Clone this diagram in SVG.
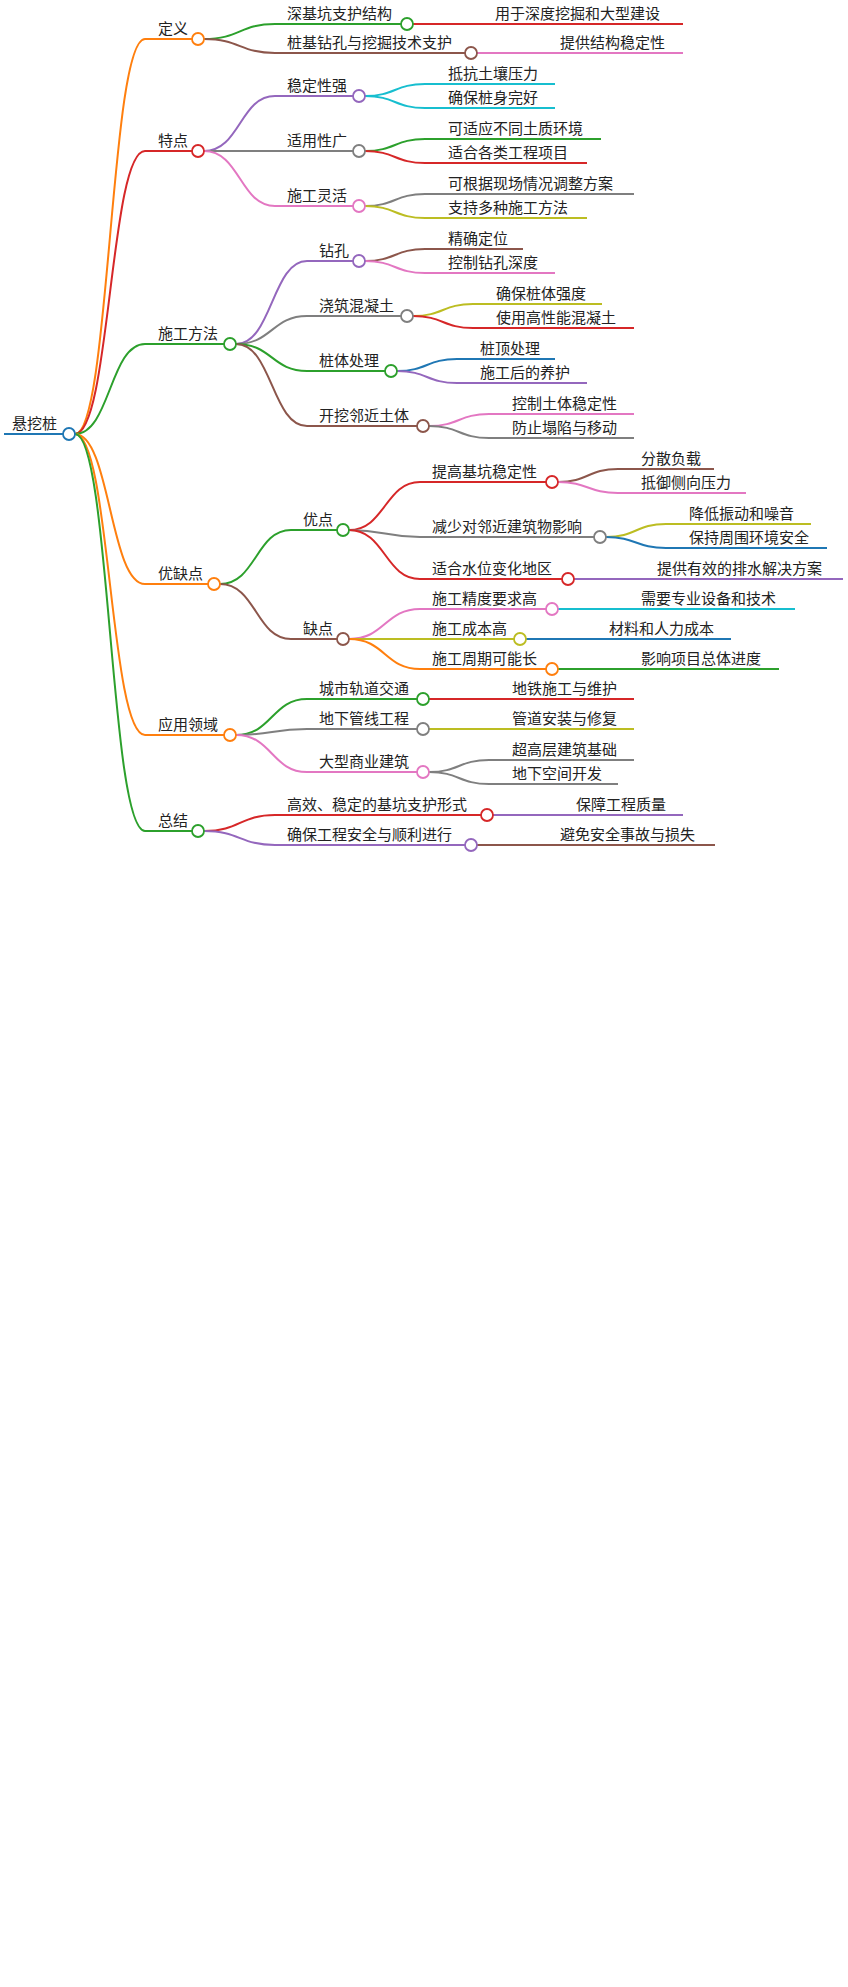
<svg xmlns="http://www.w3.org/2000/svg" width="848" height="1987" viewBox="0 0 848 1987">
<style>
text{font-family:"Noto Sans CJK SC","Liberation Sans",sans-serif;font-size:15px;fill:#222}
path{fill:none;stroke-width:2}
circle{fill:#fff;stroke-width:1.8}
.o{stroke:#ff7f0e}.r{stroke:#d62728}.g{stroke:#2ca02c}.p{stroke:#9467bd}.b{stroke:#8c564b}.k{stroke:#e377c2}.y{stroke:#7f7f7f}.l{stroke:#bcbd22}.c{stroke:#17becf}.u{stroke:#1f77b4}
</style>
<rect width="848" height="1987" fill="#fff"/>
<g id="connectors">
<path class="o" d="M75 434C110 434 110 39 145 39"/>
<path class="r" d="M75 434C110 434 110 151 145 151"/>
<path class="g" d="M75 434C110 434 110 344 145 344"/>
<path class="o" d="M75 434C110 434 110 584 145 584"/>
<path class="o" d="M75 434C110 434 110 735 145 735"/>
<path class="g" d="M75 434C110 434 110 831 145 831"/>
<path class="g" d="M204 39C240 39 240 24 275 24"/>
<path class="b" d="M204 39C240 39 240 53 275 53"/>
<path class="r" d="M413 24C443 24 443 24 473 24"/>
<path class="k" d="M477 53C507 53 507 53 537 53"/>
<path class="p" d="M204 151C240 151 240 96 275 96"/>
<path class="y" d="M204 151C240 151 240 151 275 151"/>
<path class="k" d="M204 151C240 151 240 206 275 206"/>
<path class="c" d="M365 96C395 96 395 84 425 84"/>
<path class="c" d="M365 96C395 96 395 108 425 108"/>
<path class="g" d="M365 151C395 151 395 139 425 139"/>
<path class="r" d="M365 151C395 151 395 163 425 163"/>
<path class="y" d="M365 206C395 206 395 194 425 194"/>
<path class="l" d="M365 206C395 206 395 218 425 218"/>
<path class="p" d="M236 344C272 344 272 261 307 261"/>
<path class="y" d="M236 344C272 344 272 316 307 316"/>
<path class="g" d="M236 344C272 344 272 371 307 371"/>
<path class="b" d="M236 344C272 344 272 426 307 426"/>
<path class="b" d="M365 261C395 261 395 249 425 249"/>
<path class="k" d="M365 261C395 261 395 273 425 273"/>
<path class="l" d="M413 316C443 316 443 304 473 304"/>
<path class="r" d="M413 316C443 316 443 328 473 328"/>
<path class="u" d="M397 371C427 371 427 359 457 359"/>
<path class="p" d="M397 371C427 371 427 383 457 383"/>
<path class="k" d="M429 426C459 426 459 414 489 414"/>
<path class="y" d="M429 426C459 426 459 438 489 438"/>
<path class="g" d="M220 584C256 584 256 530 291 530"/>
<path class="b" d="M220 584C256 584 256 639 291 639"/>
<path class="r" d="M349 530C385 530 385 482 420 482"/>
<path class="y" d="M349 530C385 530 385 537 420 537"/>
<path class="r" d="M349 530C385 530 385 579 420 579"/>
<path class="b" d="M558 482C588 482 588 469 618 469"/>
<path class="k" d="M558 482C588 482 588 493 618 493"/>
<path class="l" d="M606 537C636 537 636 524 666 524"/>
<path class="u" d="M606 537C636 537 636 548 666 548"/>
<path class="p" d="M574 579L634 579"/>
<path class="k" d="M349 639C385 639 385 609 420 609"/>
<path class="l" d="M349 639C385 639 385 639 420 639"/>
<path class="o" d="M349 639C385 639 385 669 420 669"/>
<path class="c" d="M558 609L618 609"/>
<path class="u" d="M526 639L586 639"/>
<path class="g" d="M558 669L618 669"/>
<path class="g" d="M236 735C272 735 272 699 307 699"/>
<path class="y" d="M236 735C272 735 272 729 307 729"/>
<path class="k" d="M236 735C272 735 272 772 307 772"/>
<path class="r" d="M429 699L489 699"/>
<path class="l" d="M429 729L489 729"/>
<path class="y" d="M429 772C459 772 459 760 489 760"/>
<path class="y" d="M429 772C459 772 459 784 489 784"/>
<path class="r" d="M204 831C240 831 240 815 275 815"/>
<path class="p" d="M204 831C240 831 240 845 275 845"/>
<path class="p" d="M493 815L553 815"/>
<path class="b" d="M477 845L537 845"/>
</g>
<g id="root"><path class="u" stroke-width="3" d="M4 434H63"/><circle class="u" cx="69" cy="434" r="6"/><text x="12" y="429">悬挖桩</text></g>
<g id="n1"><path class="o" d="M145 39H192"/><circle class="o" cx="198" cy="39" r="6"/><text x="158" y="34">定义</text></g>
<g id="n2"><path class="r" d="M145 151H192"/><circle class="r" cx="198" cy="151" r="6"/><text x="158" y="146">特点</text></g>
<g id="n3"><path class="g" d="M145 344H224"/><circle class="g" cx="230" cy="344" r="6"/><text x="158" y="339">施工方法</text></g>
<g id="n4"><path class="o" d="M145 584H208"/><circle class="o" cx="214" cy="584" r="6"/><text x="158" y="579">优缺点</text></g>
<g id="n5"><path class="o" d="M145 735H224"/><circle class="o" cx="230" cy="735" r="6"/><text x="158" y="730">应用领域</text></g>
<g id="n6"><path class="g" d="M145 831H192"/><circle class="g" cx="198" cy="831" r="6"/><text x="158" y="826">总结</text></g>
<g id="n1a"><path class="g" d="M275 24H401"/><circle class="g" cx="407" cy="24" r="6"/><text x="287" y="19">深基坑支护结构</text></g>
<g id="n1a1"><path class="r" d="M473 24H683"/><text x="495" y="19">用于深度挖掘和大型建设</text></g>
<g id="n1b"><path class="b" d="M275 53H465"/><circle class="b" cx="471" cy="53" r="6"/><text x="287" y="48">桩基钻孔与挖掘技术支护</text></g>
<g id="n1b1"><path class="k" d="M537 53H683"/><text x="560" y="48">提供结构稳定性</text></g>
<g id="n2a"><path class="p" d="M275 96H353"/><circle class="p" cx="359" cy="96" r="6"/><text x="287" y="91">稳定性强</text></g>
<g id="n2a1"><path class="c" d="M425 84H555"/><text x="448" y="79">抵抗土壤压力</text></g>
<g id="n2a2"><path class="c" d="M425 108H555"/><text x="448" y="103">确保桩身完好</text></g>
<g id="n2b"><path class="y" d="M275 151H353"/><circle class="y" cx="359" cy="151" r="6"/><text x="287" y="146">适用性广</text></g>
<g id="n2b1"><path class="g" d="M425 139H601"/><text x="448" y="134">可适应不同土质环境</text></g>
<g id="n2b2"><path class="r" d="M425 163H587"/><text x="448" y="158">适合各类工程项目</text></g>
<g id="n2c"><path class="k" d="M275 206H353"/><circle class="k" cx="359" cy="206" r="6"/><text x="287" y="201">施工灵活</text></g>
<g id="n2c1"><path class="y" d="M425 194H634"/><text x="448" y="189">可根据现场情况调整方案</text></g>
<g id="n2c2"><path class="l" d="M425 218H587"/><text x="448" y="213">支持多种施工方法</text></g>
<g id="n3a"><path class="p" d="M307 261H353"/><circle class="p" cx="359" cy="261" r="6"/><text x="319" y="256">钻孔</text></g>
<g id="n3a1"><path class="b" d="M425 249H523"/><text x="448" y="244">精确定位</text></g>
<g id="n3a2"><path class="k" d="M425 273H555"/><text x="448" y="268">控制钻孔深度</text></g>
<g id="n3b"><path class="y" d="M307 316H401"/><circle class="y" cx="407" cy="316" r="6"/><text x="319" y="311">浇筑混凝土</text></g>
<g id="n3b1"><path class="l" d="M473 304H602"/><text x="496" y="299">确保桩体强度</text></g>
<g id="n3b2"><path class="r" d="M473 328H634"/><text x="496" y="323">使用高性能混凝土</text></g>
<g id="n3c"><path class="g" d="M307 371H385"/><circle class="g" cx="391" cy="371" r="6"/><text x="319" y="366">桩体处理</text></g>
<g id="n3c1"><path class="u" d="M457 359H555"/><text x="480" y="354">桩顶处理</text></g>
<g id="n3c2"><path class="p" d="M457 383H587"/><text x="480" y="378">施工后的养护</text></g>
<g id="n3d"><path class="b" d="M307 426H417"/><circle class="b" cx="423" cy="426" r="6"/><text x="319" y="421">开挖邻近土体</text></g>
<g id="n3d1"><path class="k" d="M489 414H634"/><text x="512" y="409">控制土体稳定性</text></g>
<g id="n3d2"><path class="y" d="M489 438H634"/><text x="512" y="433">防止塌陷与移动</text></g>
<g id="n4a"><path class="g" d="M291 530H337"/><circle class="g" cx="343" cy="530" r="6"/><text x="303" y="525">优点</text></g>
<g id="n4a1"><path class="r" d="M420 482H546"/><circle class="r" cx="552" cy="482" r="6"/><text x="432" y="477">提高基坑稳定性</text></g>
<g id="n4a1a"><path class="b" d="M618 469H714"/><text x="641" y="464">分散负载</text></g>
<g id="n4a1b"><path class="k" d="M618 493H746"/><text x="641" y="488">抵御侧向压力</text></g>
<g id="n4a2"><path class="y" d="M420 537H594"/><circle class="y" cx="600" cy="537" r="6"/><text x="432" y="532">减少对邻近建筑物影响</text></g>
<g id="n4a2a"><path class="l" d="M666 524H811"/><text x="689" y="519">降低振动和噪音</text></g>
<g id="n4a2b"><path class="u" d="M666 548H827"/><text x="689" y="543">保持周围环境安全</text></g>
<g id="n4a3"><path class="r" d="M420 579H562"/><circle class="r" cx="568" cy="579" r="6"/><text x="432" y="574">适合水位变化地区</text></g>
<g id="n4a3a"><path class="p" d="M634 579H843"/><text x="657" y="574">提供有效的排水解决方案</text></g>
<g id="n4b"><path class="b" d="M291 639H337"/><circle class="b" cx="343" cy="639" r="6"/><text x="303" y="634">缺点</text></g>
<g id="n4b1"><path class="k" d="M420 609H546"/><circle class="k" cx="552" cy="609" r="6"/><text x="432" y="604">施工精度要求高</text></g>
<g id="n4b1a"><path class="c" d="M618 609H795"/><text x="641" y="604">需要专业设备和技术</text></g>
<g id="n4b2"><path class="l" d="M420 639H514"/><circle class="l" cx="520" cy="639" r="6"/><text x="432" y="634">施工成本高</text></g>
<g id="n4b2a"><path class="u" d="M586 639H731"/><text x="609" y="634">材料和人力成本</text></g>
<g id="n4b3"><path class="o" d="M420 669H546"/><circle class="o" cx="552" cy="669" r="6"/><text x="432" y="664">施工周期可能长</text></g>
<g id="n4b3a"><path class="g" d="M618 669H779"/><text x="641" y="664">影响项目总体进度</text></g>
<g id="n5a"><path class="g" d="M307 699H417"/><circle class="g" cx="423" cy="699" r="6"/><text x="319" y="694">城市轨道交通</text></g>
<g id="n5a1"><path class="r" d="M489 699H634"/><text x="512" y="694">地铁施工与维护</text></g>
<g id="n5b"><path class="y" d="M307 729H417"/><circle class="y" cx="423" cy="729" r="6"/><text x="319" y="724">地下管线工程</text></g>
<g id="n5b1"><path class="l" d="M489 729H634"/><text x="512" y="724">管道安装与修复</text></g>
<g id="n5c"><path class="k" d="M307 772H417"/><circle class="k" cx="423" cy="772" r="6"/><text x="319" y="767">大型商业建筑</text></g>
<g id="n5c1"><path class="y" d="M489 760H634"/><text x="512" y="755">超高层建筑基础</text></g>
<g id="n5c2"><path class="y" d="M489 784H618"/><text x="512" y="779">地下空间开发</text></g>
<g id="n6a"><path class="r" d="M275 815H481"/><circle class="r" cx="487" cy="815" r="6"/><text x="287" y="810">高效、稳定的基坑支护形式</text></g>
<g id="n6a1"><path class="p" d="M553 815H683"/><text x="576" y="810">保障工程质量</text></g>
<g id="n6b"><path class="p" d="M275 845H465"/><circle class="p" cx="471" cy="845" r="6"/><text x="287" y="840">确保工程安全与顺利进行</text></g>
<g id="n6b1"><path class="b" d="M537 845H715"/><text x="560" y="840">避免安全事故与损失</text></g>
</svg>
